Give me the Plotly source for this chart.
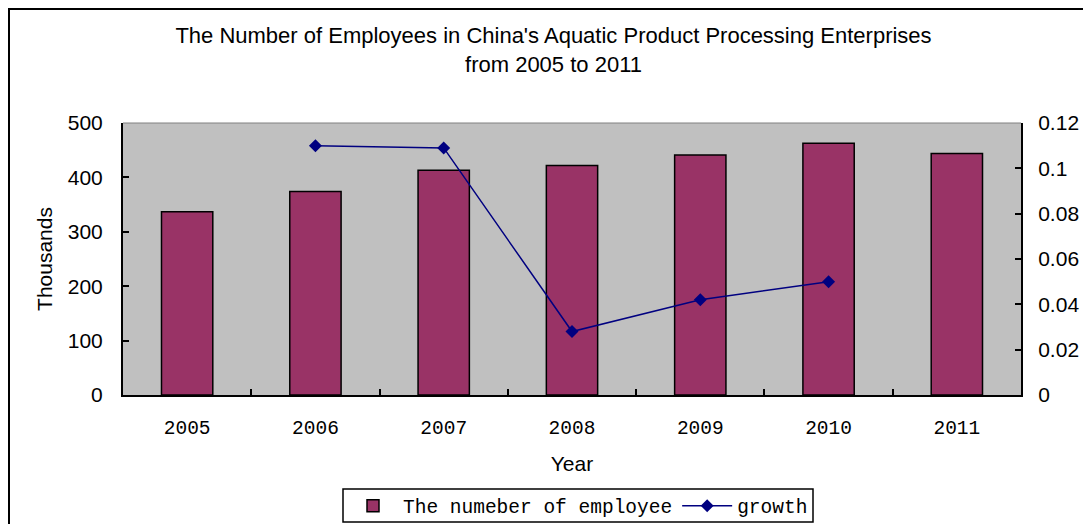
import plotly.graph_objects as go

years = ["2005", "2006", "2007", "2008", "2009", "2010", "2011"]
employees = [337, 374, 413, 422, 441, 463, 444]
growth_years = ["2006", "2007", "2008", "2009", "2010"]
growth = [0.110, 0.109, 0.028, 0.042, 0.050]

OFF = 8  # default body margin of the html page
W, H = 1091 - OFF, 524 - OFF
# plot area in screen pixels: x 123..1021, y 123..395
L, T = 123 - OFF, 123 - OFF
R = W - (1021 - OFF)
B = H - (395 - OFF)
pw, ph = W - L - R, H - T - B

def px_x(sx):
    return (sx - OFF - L) / pw

def px_y(sy):
    return (H - B - (sy - OFF)) / ph

sans = "Liberation Sans, Arial, sans-serif"
mono = "Liberation Mono, Courier New, monospace"

fig = go.Figure()
fig.add_trace(go.Bar(
    x=years, y=employees, name="The numeber of employee",
    marker=dict(color="#993366", line=dict(color="black", width=1.5)),
    width=0.4,
))
fig.add_trace(go.Scatter(
    x=growth_years, y=growth, name="growth", yaxis="y2",
    mode="lines+markers",
    line=dict(color="#000080", width=1.5),
    marker=dict(symbol="diamond", size=10, color="#000080"),
))

fig.update_layout(
    width=W, height=H,
    margin=dict(l=L, r=R, t=T, b=B, autoexpand=False),
    paper_bgcolor="white",
    plot_bgcolor="#C0C0C0",
    title=dict(
        text="The Number of Employees in China's Aquatic Product Processing Enterprises<br>from 2005 to 2011",
        font=dict(family=sans, size=22, color="black"),
        x=(553.5 - OFF) / W, xanchor="center",
        y=1 - 35 / H, yanchor="top", yref="container",
    ),
    xaxis=dict(
        type="category",
        categoryorder="array", categoryarray=years,
        showline=True, linecolor="black", linewidth=2,
        ticks="inside", ticklen=6, tickcolor="black", tickwidth=1.5,
        tickson="boundaries",
        showgrid=False,
        tickfont=dict(family=mono, size=19.5, color="black"),
        ticklabelstandoff=14,
        title=dict(text="Year", font=dict(family=sans, size=21, color="black"), standoff=17),
    ),
    yaxis=dict(
        range=[0, 500], dtick=100,
        showline=True, linecolor="black", linewidth=2,
        ticks="inside", ticklen=6, tickcolor="black", tickwidth=1.5,
        showgrid=False, zeroline=False,
        tickfont=dict(family=sans, size=21, color="black"),
        ticklabelstandoff=14,
        title=dict(text="Thousands", font=dict(family=sans, size=21, color="black"), standoff=9),
    ),
    yaxis2=dict(
        range=[0, 0.12], dtick=0.02,
        overlaying="y", side="right",
        showline=True, linecolor="black", linewidth=2,
        ticks="inside", ticklen=6, tickcolor="black", tickwidth=1.5,
        showgrid=False, zeroline=False,
        tickfont=dict(family=sans, size=21, color="black"),
        ticklabelstandoff=11,
    ),
    showlegend=True,
    legend=dict(
        orientation="h",
        x=px_x(578), xanchor="center",
        y=px_y(506), yanchor="middle",
        borderwidth=0,
        bgcolor="rgba(0,0,0,0)",
        font=dict(family=mono, size=19.5, color="black"),
        itemwidth=50,
        tracegroupgap=0,
    ),
)

# outer chart frame (extends beyond the right and bottom edges)
fig.add_shape(
    type="rect", xref="paper", yref="paper",
    x0=px_x(9), x1=px_x(1110), y0=px_y(540), y1=px_y(OFF + 1),
    line=dict(color="black", width=2), fillcolor="rgba(0,0,0,0)", layer="below",
)
# legend frame
fig.add_shape(
    type="rect", xref="paper", yref="paper",
    x0=px_x(343), x1=px_x(813), y0=px_y(522), y1=px_y(489),
    line=dict(color="black", width=1.5), fillcolor="rgba(0,0,0,0)", layer="below",
)
# top edge of plot area
fig.add_shape(
    type="line", xref="paper", yref="paper",
    x0=0, x1=1, y0=1, y1=1,
    line=dict(color="#808080", width=1),
)

fig.write_html("out.html")
